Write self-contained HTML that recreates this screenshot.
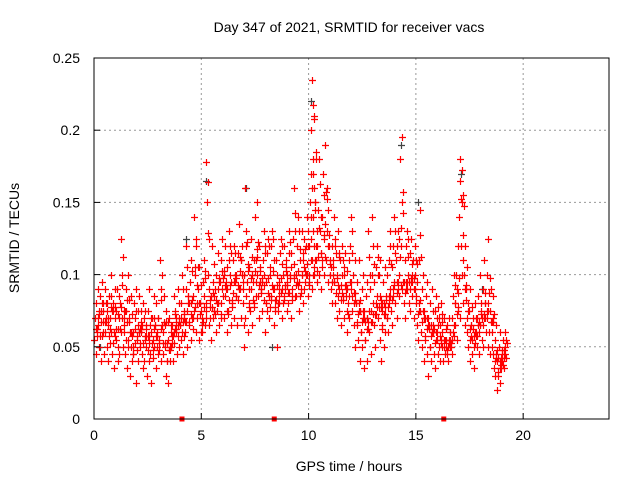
<!DOCTYPE html>
<html><head><meta charset="utf-8">
<style>
html,body{margin:0;padding:0;background:#fff;}
svg{display:block;font-family:"Liberation Sans",sans-serif;}
</style></head>
<body>
<svg id="chart" width="640" height="480" viewBox="0 0 640 480" xmlns="http://www.w3.org/2000/svg">
<rect width="640" height="480" fill="#fff"/>
<g id="grid"></g>
<g id="marks"></g>
<rect x="94" y="58" width="515" height="361" fill="none" stroke="#000" stroke-width="1"/>
<g id="ticks"></g>
<text x="349" y="32" font-size="14" text-anchor="middle" fill="#000">Day 347 of 2021, SRMTID for receiver vacs</text>
<text x="349" y="471" font-size="14" text-anchor="middle" fill="#000">GPS time / hours</text>
<text x="19" y="238" font-size="14" text-anchor="middle" fill="#000" transform="rotate(-90 19 238)">SRMTID / TECUs</text>
</svg>
<script>
const xTicks = [0,5,10,15,20];
const yTicks = [0,0.05,0.1,0.15,0.2,0.25];
const yTickLabels = ["0","0.05","0.1","0.15","0.2","0.25"];
const gapHours = [4.1,8.4,16.3];
// each group: [hour, values...]
const redGroups = [
[0.0,.055,.07,.045,.08,.06,.09],[0.2,.065,.05,.085,.075,.04,.095],[0.4,.06,.075,.045,.09,.07,.08],
[0.6,.05,.065,.04,.085,.07,.1],[0.8,.06,.045,.075,.08,.035,.09],[1.0,.07,.055,.09,.05,.04,.085],
[1.2,.08,.06,.125,.1,.05,.07],[1.4,.065,.045,.09,.075,.035,.1],[1.6,.05,.07,.03,.085,.06,.04],
[1.8,.06,.045,.08,.07,.025,.09],[2.0,.055,.065,.04,.085,.05,.075],[2.2,.06,.045,.035,.08,.07,.055],
[2.4,.05,.065,.03,.075,.04,.09],[2.6,.045,.06,.025,.07,.055,.085],[2.8,.05,.065,.035,.08,.06,.045],
[3.0,.07,.055,.11,.09,.04,.065],[3.2,.06,.045,.085,.05,.03,.075],[3.4,.04,.055,.025,.07,.05,.065],
[3.6,.05,.065,.04,.085,.06,.075],[3.8,.06,.07,.045,.09,.05,.08],[4.0,.065,.055,.08,.1,.045,.07],
[4.2,.075,.06,.09,.12,.05,.085],[4.4,.08,.065,.095,.11,.055,.07],[4.6,.085,.07,.14,.1,.06,.125],
[4.8,.07,.09,.055,.105,.08,.06],[5.0,.075,.06,.095,.11,.085,.065],[5.2,.08,.178,.15,.1,.065,.09],
[5.4,.07,.085,.055,.12,.095,.075],[5.6,.075,.09,.06,.1,.08,.115],[5.8,.08,.065,.095,.11,.07,.125],
[6.0,.085,.1,.07,.12,.09,.06],[6.2,.09,.075,.11,.13,.1,.065],[6.4,.095,.08,.11,.12,.07,.1],
[6.6,.085,.1,.065,.115,.09,.135],[6.8,.09,.11,.07,.12,.08,.05],[7.0,.1,.16,.085,.12,.095,.06],
[7.2,.09,.105,.075,.125,.1,.065],[7.4,.095,.11,.08,.14,.085,.15],[7.6,.1,.085,.12,.07,.105,.09],
[7.8,.09,.075,.11,.13,.1,.06],[8.0,.095,.08,.115,.125,.085,.07],[8.2,.1,.085,.12,.13,.09,.065],
[8.4,.09,.075,.11,.05,.1,.08],[8.6,.095,.08,.115,.125,.09,.07],[8.8,.1,.085,.12,.09,.11,.075],
[9.0,.095,.08,.115,.13,.1,.07],[9.2,.105,.09,.125,.16,.1,.085],[9.4,.1,.085,.12,.14,.095,.075],
[9.6,.11,.09,.13,.1,.08,.125],[9.8,.105,.095,.12,.14,.1,.085],[10.0,.12,.1,.15,.17,.11,.09],
[10.1,.14,.2,.235,.18,.12,.1],[10.2,.13,.16,.21,.15,.11,.095],[10.4,.12,.145,.18,.1,.13,.09],
[10.6,.115,.14,.17,.1,.125,.19],[10.8,.11,.13,.16,.095,.12,.1],[11.0,.1,.09,.12,.08,.11,.14],
[11.2,.095,.08,.115,.07,.1,.13],[11.4,.09,.075,.11,.065,.1,.12],[11.6,.085,.1,.07,.115,.09,.06],
[11.8,.09,.08,.11,.07,.12,.14],[12.0,.085,.075,.1,.065,.11,.05],[12.2,.08,.065,.095,.055,.11,.04],
[12.4,.075,.06,.09,.05,.1,.035],[12.6,.07,.055,.085,.04,.095,.13],[12.8,.075,.06,.09,.045,.1,.14],
[13.0,.08,.065,.095,.05,.105,.12],[13.2,.085,.07,.1,.055,.11,.04],[13.4,.08,.065,.095,.05,.105,.06],
[13.6,.085,.07,.1,.06,.11,.13],[13.8,.09,.075,.105,.065,.12,.14],[14.0,.095,.08,.11,.07,.12,.13],
[14.2,.1,.085,.18,.12,.195,.09],[14.4,.095,.08,.11,.07,.12,.13],[14.6,.09,.1,.08,.115,.075,.125],
[14.8,.095,.085,.11,.07,.1,.12],[15.0,.08,.065,.095,.055,.11,.145],[15.2,.075,.06,.09,.05,.1,.04],
[15.4,.07,.055,.085,.045,.095,.03],[15.6,.065,.05,.08,.04,.09,.06],[15.8,.06,.045,.075,.035,.085,.07],
[16.0,.055,.045,.07,.04,.065,.08],[16.2,.05,.06,.04,.07,.055,.045],[16.4,.055,.045,.065,.04,.07,.05],
[16.6,.06,.05,.07,.045,.085,.1],[16.8,.065,.08,.1,.055,.12,.075],[17.0,.14,.165,.18,.12,.1,.155],
[17.2,.08,.1,.065,.12,.09,.07],[17.4,.06,.05,.075,.04,.09,.065],[17.6,.055,.045,.07,.035,.08,.06],
[17.8,.06,.07,.05,.085,.045,.1],[18.0,.065,.075,.055,.09,.05,.11],[18.2,.07,.08,.06,.1,.05,.125],
[18.4,.06,.075,.045,.09,.05,.085],[18.6,.045,.035,.055,.03,.065,.02],[18.8,.04,.03,.05,.025,.06,.035],
[19.0,.045,.04,.055,.035,.05,.06]
];
const blackGroups = [
[0.3,.05],[2.1,.06],[4.3,.125],[5.2,.165],[7.1,.16],[8.3,.05],[10.1,.22],
[12.7,.07],[14.3,.19],[15.1,.15],[17.1,.17],[18.1,.09]
];
const X0=94, X1=609, Y0=419, Y1=58, XMAX=24, YMAX=0.25;
const xs = h => X0 + (X1-X0)*h/XMAX;
const ys = v => Y0 - (Y0-Y1)*v/YMAX;
const NS="http://www.w3.org/2000/svg";
function mk(tag, attrs, parent){const e=document.createElementNS(NS,tag);for(const k in attrs)e.setAttribute(k,attrs[k]);parent.appendChild(e);return e;}
const grid=document.getElementById('grid'), ticks=document.getElementById('ticks'), marks=document.getElementById('marks');
xTicks.forEach(t=>{
  const x=xs(t);
  if(t>0){const g=mk('line',{x1:x,x2:x,y1:Y1,y2:Y0,stroke:'#999','stroke-dasharray':'2,3'},grid);
  
  }
  const tk=mk('line',{x1:x,x2:x,y1:Y0,y2:Y0-6,stroke:'#000'},ticks);
  
  
  const tl=mk('text',{x:x,y:Y0+21,'font-size':14,'text-anchor':'middle',fill:'#000'},ticks);tl.textContent=String(t);
  
  
});
yTicks.forEach((t,i)=>{
  const y=ys(t);
  if(t>0&&t<YMAX){const g=mk('line',{x1:X0,x2:X1,y1:y,y2:y,stroke:'#999','stroke-dasharray':'2,3'},grid);
  
  }
  const tk=mk('line',{x1:X0,x2:X0+6,y1:y,y2:y,stroke:'#000'},ticks);
  
  
  const tl=mk('text',{x:X0-14,y:y+5,'font-size':14,'text-anchor':'end',fill:'#000'},ticks);tl.textContent=yTickLabels[i];
  
  
});
function plus(h,v,color,name){
  const x=Math.round(xs(h))+0.5, y=Math.round(ys(v))+0.5;
  const p=mk('path',{d:`M${x-3.5} ${y}H${x+3.5}M${x} ${y-3.5}V${y+3.5}`,stroke:color,'stroke-width':1.2,fill:'none'},marks);
  
  
}
blackGroups.forEach(g=>{for(let i=1;i<g.length;i++)plus(g[0],g[i],'#444','black-point');});
redGroups.forEach(g=>{
  const n=g.length-1;
  for(let i=1;i<g.length;i++){
    const off=0.035*(i-1);
    plus(g[0]+off,g[i],'#f00','red-point');
    plus(g[0]+0.1+off*0.8,(g[i]+g[(i%n)+1])/2,'#f00','red-point');
  }
});
gapHours.forEach(h=>{
  const r=mk('rect',{x:xs(h)-2.5,y:Y0-2.5,width:5,height:5,fill:'#f00'},marks);
  
  
});
</script>
</body></html>
